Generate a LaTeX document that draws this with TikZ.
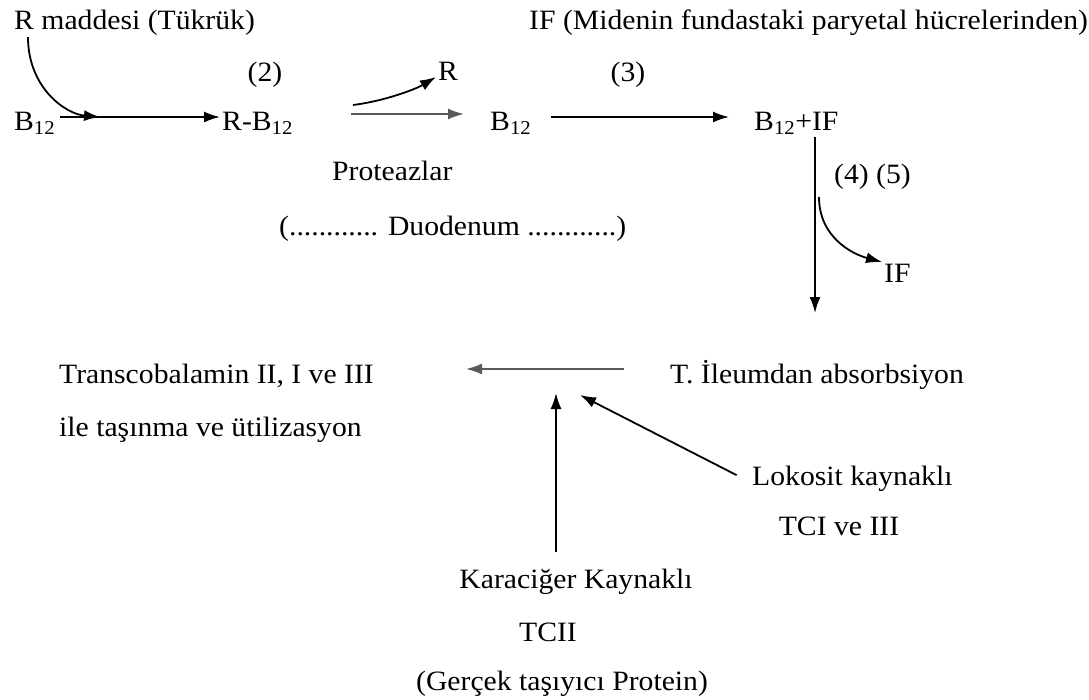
\documentclass[tikz,border=0pt]{standalone}
\usepackage{fontspec}
\setmainfont[FakeStretch=1.06]{Liberation Serif}
\usetikzlibrary{arrows.meta}

\begin{document}
\begin{tikzpicture}[x=1pt, y=-1pt,
    > = {Latex[length=16pt, width=11pt]},
    txt/.style = {inner sep=2pt, font=\fontsize{28}{34}\selectfont},
    arr/.style = {->, line width=1.8pt},
    pale/.style = {draw=black!65}
]
    \useasboundingbox (0,0) rectangle (1089,699);

    % ust satir
    \node [txt, anchor=base west] (rmad) at (12,29) {R maddesi (Tükrük)};
    \node [txt, anchor=base west] (ifsrc) at (527,29)
        {IF (Midenin fundastaki paryetal hücrelerinden)};
    \node [txt, anchor=base] (two) at (265,81) {(2)};
    \node [txt, anchor=base west] (rfree) at (436,80) {R};
    \node [txt, anchor=base] (three) at (628,81) {(3)};

    % B12 satiri
    \node [txt, anchor=base west] (b12a) at (12,130) {B\textsubscript{12}};
    \node [txt, anchor=base west] (rb12) at (220,130) {R-B\textsubscript{12}};
    \node [txt, anchor=base west] (b12b) at (488,130) {B\textsubscript{12}};
    \node [txt, anchor=base west] (bif) at (752,130) {B\textsubscript{12}+IF};

    \node [txt, anchor=base west] (prot) at (330,180) {Proteazlar};
    \node [txt, anchor=base west] (duod) at (277,235)
        {(............ Duodenum ............)};
    \node [txt, anchor=base west] (par45) at (832,183) {(4) (5)};
    \node [txt, anchor=base west] (ifout) at (882,282) {IF};

    % alt kisim
    \node [txt, anchor=base west] (ileum) at (668,383) {T. İleumdan absorbsiyon};
    \node [txt, anchor=base west] (trans) at (57,383) {Transcobalamin II, I ve III};
    \node [txt, anchor=base west] (ile) at (57,436) {ile taşınma ve ütilizasyon};
    \node [txt, anchor=base west] (lok) at (750,485) {Lokosit kaynaklı};
    \node [txt, anchor=base] (tci) at (839,535) {TCI ve III};
    \node [txt, anchor=base] (kar) at (576,588) {Karaciğer Kaynaklı};
    \node [txt, anchor=base] (tcii) at (548,641) {TCII};
    \node [txt, anchor=base] (gercek) at (562,690) {(Gerçek taşıyıcı Protein)};

    % serbest uclar
    \coordinate (rjoin) at (100,117);
    \coordinate (rsplit) at (353,105);
    \coordinate (ifsplit) at (819,197);
    \coordinate (absorb) at (815,313);
    \coordinate (tcleft) at (466,369);
    \coordinate (kartip) at (556,393);
    \coordinate (loktip) at (580,395);

    % oklar
    \draw [arr, shorten <=3pt] ([yshift=13pt]b12a.base east) -- ([yshift=13pt]rb12.base west);
    \draw [arr] ([xshift=16pt]rmad.south west)
        .. controls +(0,50) and +(-35,-3) .. (rjoin);
    \draw [arr, pale, shorten <=56pt, shorten >=24pt]
        ([yshift=16pt]rb12.base east) -- ([yshift=16pt]b12b.base west);
    \draw [arr] (rsplit) .. controls +(32,-4) and +(-20,12) .. ([yshift=3pt]rfree.base west);
    \draw [arr, shorten <=18pt, shorten >=23pt]
        ([yshift=13pt]b12b.base east) -- ([yshift=13pt]bif.base west);

    \draw [arr] (bif.south -| absorb) -- (absorb);
    \draw [arr] (ifsplit) .. controls +(0,40) and +(-30,-8) .. ([yshift=20pt]ifout.base west);

    \draw [arr, pale, shorten <=44pt] ([yshift=14pt]ileum.base west) -- (tcleft);
    \draw [arr, shorten <=14pt] (kar.north -| kartip) -- (kartip);
    \draw [arr, shorten <=15pt] ([yshift=3pt]lok.base west) -- (loktip);
\end{tikzpicture}
\end{document}
